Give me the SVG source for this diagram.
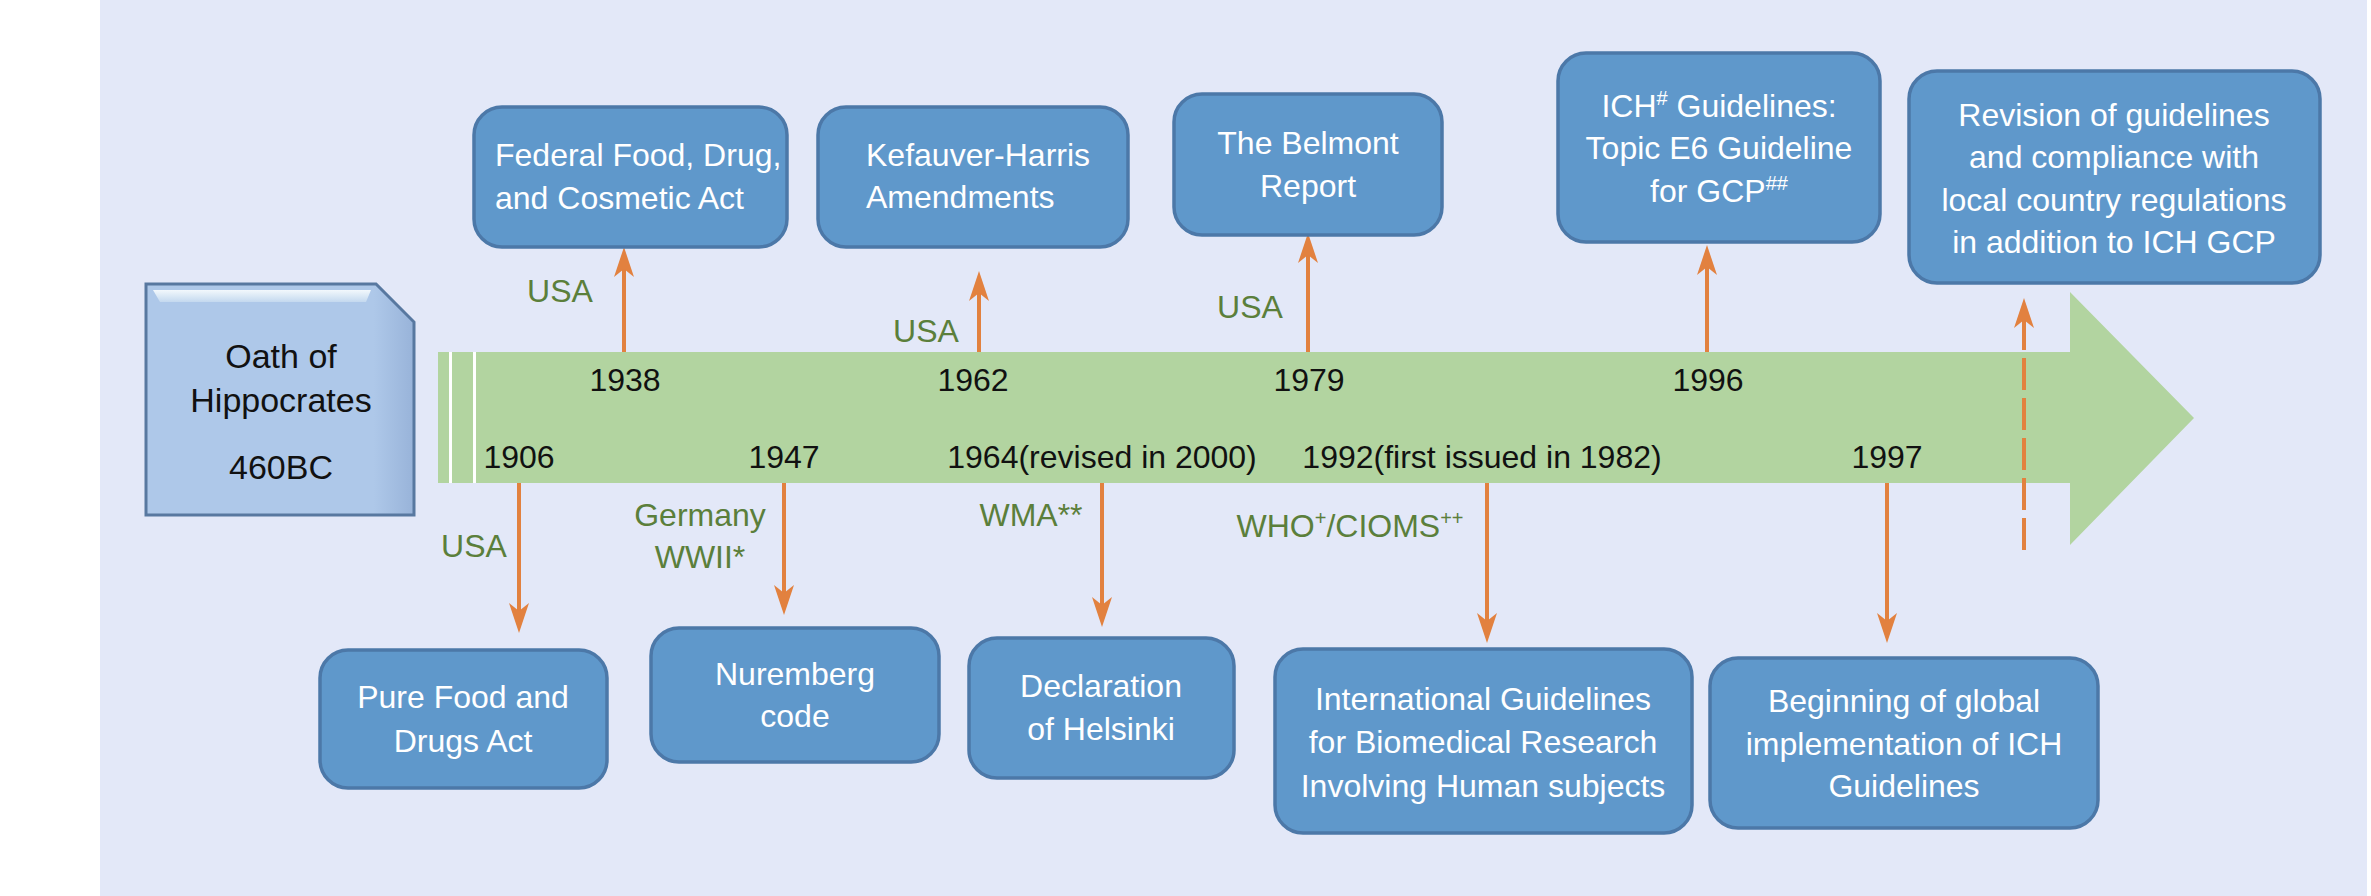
<svg xmlns="http://www.w3.org/2000/svg" width="2371" height="896" viewBox="0 0 2371 896">
<style>
text{font-family:"Liberation Sans",Arial,sans-serif;}
.box{fill:#5F98CB;stroke:#4C78A8;stroke-width:3.5;}
.wt{fill:#FFFFFF;font-size:32px;}
.wc{fill:#FFFFFF;font-size:32px;text-anchor:middle;}
.yr{fill:#111111;font-size:32px;text-anchor:middle;}
.gl{fill:#5B7F3B;font-size:32px;text-anchor:middle;}
.ot{fill:#111111;font-size:34px;text-anchor:middle;}
.arr{stroke:#E2813F;stroke-width:4;fill:none;marker-end:url(#ah);}
.sup{font-size:20px;}
</style>
<defs>
<marker id="ah" markerUnits="userSpaceOnUse" markerWidth="32" markerHeight="22" viewBox="0 -11 32 22" refX="8" refY="0" orient="auto">
<path d="M30,0 L0,-10 L8,0 L0,10 Z" fill="#E2813F"/>
</marker>
<linearGradient id="og" x1="0" y1="0" x2="1" y2="0">
<stop offset="0" stop-color="#AEC8E9"/>
<stop offset="0.85" stop-color="#AEC8E9"/>
<stop offset="1" stop-color="#98B3D9"/>
</linearGradient>
<linearGradient id="hl" x1="0" y1="0" x2="0" y2="1">
<stop offset="0" stop-color="#F2F8FC"/>
<stop offset="1" stop-color="#C4D9EF"/>
</linearGradient>
</defs>
<rect x="0" y="0" width="2371" height="896" fill="#FFFFFF"/>
<rect x="100" y="0" width="2267" height="896" fill="#E3E8F8"/>

<g id="timeline">
<path d="M438,352 L2070,352 L2070,292 L2194,418 L2070,545 L2070,483 L438,483 Z" fill="#B2D4A0"/>
<rect x="449" y="352" width="3" height="131" fill="#FFFFFF"/>
<rect x="473" y="352" width="3" height="131" fill="#FFFFFF"/>
<text class="yr" x="625" y="391">1938</text>
<text class="yr" x="973" y="391">1962</text>
<text class="yr" x="1309" y="391">1979</text>
<text class="yr" x="1708" y="391">1996</text>
<text class="yr" x="519" y="468">1906</text>
<text class="yr" x="784" y="468">1947</text>
<text class="yr" x="1102" y="468">1964(revised in 2000)</text>
<text class="yr" x="1482" y="468">1992(first issued in 1982)</text>
<text class="yr" x="1887" y="468">1997</text>
</g>

<g id="oath">
<path d="M146,284 L376,284 L414,322 L414,515 L146,515 Z" fill="url(#og)" stroke="#5878A0" stroke-width="3"/>
<path d="M153,290 L371,290 L366,302 L160,302 Z" fill="url(#hl)"/>
<text class="ot" x="281" y="368">Oath of</text>
<text class="ot" x="281" y="412">Hippocrates</text>
<text class="ot" x="281" y="479">460BC</text>
</g>

<g id="connectors">
<line class="arr" x1="624" y1="352" x2="624" y2="269"/>
<line class="arr" x1="979" y1="352" x2="979" y2="293"/>
<line class="arr" x1="1308" y1="352" x2="1308" y2="255"/>
<line class="arr" x1="1707" y1="352" x2="1707" y2="267"/>
<line class="arr" x1="2024" y1="550" x2="2024" y2="320" stroke-dasharray="32 8"/>
<line class="arr" x1="519" y1="483" x2="519" y2="611"/>
<line class="arr" x1="784" y1="483" x2="784" y2="593"/>
<line class="arr" x1="1102" y1="483" x2="1102" y2="605"/>
<line class="arr" x1="1487" y1="483" x2="1487" y2="621"/>
<line class="arr" x1="1887" y1="483" x2="1887" y2="621"/>
</g>

<g id="labels">
<text class="gl" x="560" y="302">USA</text>
<text class="gl" x="926" y="342">USA</text>
<text class="gl" x="1250" y="318">USA</text>
<text class="gl" x="474" y="557">USA</text>
<text class="gl" x="700" y="526">Germany</text>
<text class="gl" x="700" y="568">WWII*</text>
<text class="gl" x="1031" y="526">WMA**</text>
<text class="gl" x="1350" y="537">WHO<tspan class="sup" dy="-12">+</tspan><tspan dy="12">/CIOMS</tspan><tspan class="sup" dy="-12">++</tspan></text>
</g>

<g id="federal">
<rect class="box" x="474" y="107" width="313" height="140" rx="28"/>
<text class="wt" x="495" y="166">Federal Food, Drug,</text>
<text class="wt" x="495" y="209">and Cosmetic Act</text>
</g>
<g id="kefauver">
<rect class="box" x="818" y="107" width="310" height="140" rx="28"/>
<text class="wt" x="866" y="166">Kefauver-Harris</text>
<text class="wt" x="866" y="208">Amendments</text>
</g>
<g id="belmont">
<rect class="box" x="1174" y="94" width="268" height="141" rx="28"/>
<text class="wc" x="1308" y="154">The Belmont</text>
<text class="wc" x="1308" y="197">Report</text>
</g>
<g id="ich">
<rect class="box" x="1558" y="53" width="322" height="189" rx="28"/>
<text class="wc" x="1719" y="117">ICH<tspan class="sup" dy="-12">#</tspan><tspan dy="12"> Guidelines:</tspan></text>
<text class="wc" x="1719" y="159">Topic E6 Guideline</text>
<text class="wc" x="1719" y="202">for GCP<tspan class="sup" dy="-12">##</tspan></text>
</g>
<g id="revision">
<rect class="box" x="1909" y="71" width="411" height="212" rx="28"/>
<text class="wc" x="2114" y="126">Revision of guidelines</text>
<text class="wc" x="2114" y="168">and compliance with</text>
<text class="wc" x="2114" y="211">local country regulations</text>
<text class="wc" x="2114" y="253">in addition to ICH GCP</text>
</g>
<g id="purefood">
<rect class="box" x="320" y="650" width="287" height="138" rx="28"/>
<text class="wc" x="463" y="708">Pure Food and</text>
<text class="wc" x="463" y="752">Drugs Act</text>
</g>
<g id="nuremberg">
<rect class="box" x="651" y="628" width="288" height="134" rx="28"/>
<text class="wc" x="795" y="685">Nuremberg</text>
<text class="wc" x="795" y="727">code</text>
</g>
<g id="helsinki">
<rect class="box" x="969" y="638" width="265" height="140" rx="28"/>
<text class="wc" x="1101" y="697">Declaration</text>
<text class="wc" x="1101" y="740">of Helsinki</text>
</g>
<g id="international">
<rect class="box" x="1275" y="649" width="417" height="184" rx="28"/>
<text class="wc" x="1483" y="710">International Guidelines</text>
<text class="wc" x="1483" y="753">for Biomedical Research</text>
<text class="wc" x="1483" y="797">Involving Human subjects</text>
</g>
<g id="beginning">
<rect class="box" x="1710" y="658" width="388" height="170" rx="28"/>
<text class="wc" x="1904" y="712">Beginning of global</text>
<text class="wc" x="1904" y="755">implementation of ICH</text>
<text class="wc" x="1904" y="797">Guidelines</text>
</g>
</svg>
